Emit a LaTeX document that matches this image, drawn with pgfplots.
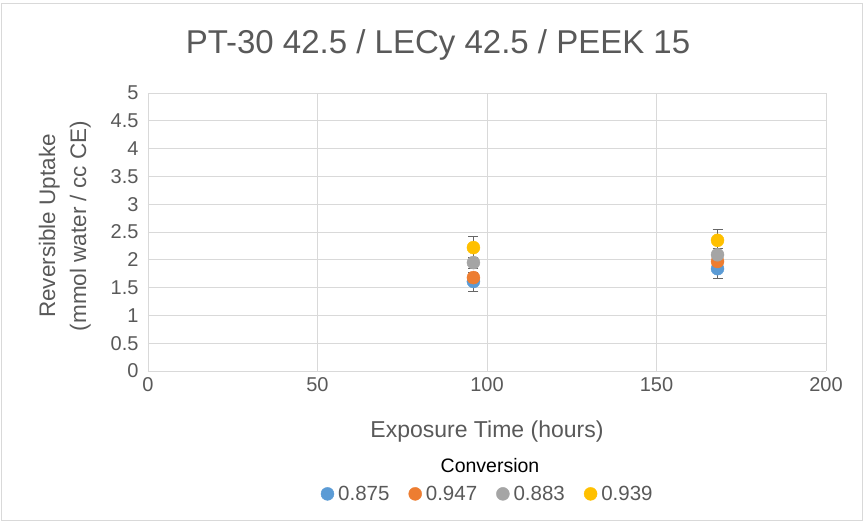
\documentclass[border=0pt]{standalone}
\usepackage{pgfplots}
\pgfplotsset{compat=1.18}
\usepackage{fontspec}
\setmainfont{Liberation Sans}
\definecolor{cblue}{HTML}{5B9BD5}
\definecolor{corange}{HTML}{ED7D31}
\definecolor{cgray}{HTML}{A5A5A5}
\definecolor{cyellow}{HTML}{FFC000}
\definecolor{txt}{HTML}{595959}
\definecolor{grd}{HTML}{D9D9D9}
\begin{document}
\begin{tikzpicture}[x=1pt,y=1pt]
\path[use as bounding box] (0,0) rectangle (865,521);
\draw[grd,line width=0.8pt] (1,1) rectangle (862,518);
\begin{axis}[
  at={(148pt,150pt)}, anchor=south west,
  width=678pt, height=278pt, scale only axis,
  xmin=0, xmax=200, ymin=0, ymax=5,
  xtick={0,50,...,200}, ytick={0,0.5,...,5},
  yticklabel style={/pgf/number format/fixed,/pgf/number format/precision=1},
  /pgf/number format/assume math mode=true,
  grid=major, major grid style={grd,line width=0.8pt},
  axis line style={draw=none}, tick style={draw=none},
  ticklabel style={font=\fontsize{20}{20}\selectfont, text=txt},
  xticklabel style={yshift=-3pt},
  yticklabel style={xshift=-6pt},
  xlabel={Exposure Time (hours)},
  xlabel style={font=\fontsize{23}{23}\selectfont, text=txt, yshift=-22pt},
  ylabel={Reversible Uptake\\(mmol water / cc CE)},
  ylabel style={align=center, font=\fontsize{22.5}{31}\selectfont, text=txt, yshift=13pt, xshift=6pt},
  legend columns=4,
  legend style={at={(0.501,-0.442)}, anchor=center, draw=none, fill=none,
    font=\fontsize{20.5}{20.5}\selectfont, text=txt, inner xsep=0pt,
    /tikz/every odd column/.append style={column sep=2pt},
    /tikz/every even column/.append style={column sep=17pt}},
  legend image code/.code={\fill (0.3cm,0) circle (6.5pt);},
  legend cell align=left,
  clip=false,
]
\addplot[only marks, mark=*, mark size=6.5pt, color=cblue,
  error bars/.cd, y dir=both, y explicit, error mark options={rotate=90,mark size=5pt,color=black!60}, error bar style={color=black!60,line width=0.7pt}]
  coordinates {(96,1.61) +- (0,0.17) (168,1.84) +- (0,0.17)};
\addplot[only marks, mark=*, mark size=6.5pt, color=corange,
  error bars/.cd, y dir=both, y explicit, error mark options={rotate=90,mark size=5pt,color=black!60}, error bar style={color=black!60,line width=0.7pt}]
  coordinates {(96,1.68) +- (0,0.1) (168,1.97) +- (0,0.1)};
\addplot[only marks, mark=*, mark size=6.5pt, color=cgray,
  error bars/.cd, y dir=both, y explicit, error mark options={rotate=90,mark size=5pt,color=black!60}, error bar style={color=black!60,line width=0.7pt}]
  coordinates {(96,1.95) +- (0,0.1) (168,2.09) +- (0,0.12)};
\addplot[only marks, mark=*, mark size=6.5pt, color=cyellow,
  error bars/.cd, y dir=both, y explicit, error mark options={rotate=90,mark size=5pt,color=black!60}, error bar style={color=black!60,line width=0.7pt}]
  coordinates {(96,2.22) +- (0,0.21) (168,2.35) +- (0,0.2)};
\legend{0.875,0.947,0.883,0.939}
\end{axis}
\node[font=\fontsize{33}{33}\selectfont, text=txt] at (438,476) {PT-30 42.5 / LECy 42.5 / PEEK 15};
\node[font=\fontsize{19.5}{19.5}\selectfont, text=black] at (490,55) {Conversion};
\end{tikzpicture}
\end{document}
